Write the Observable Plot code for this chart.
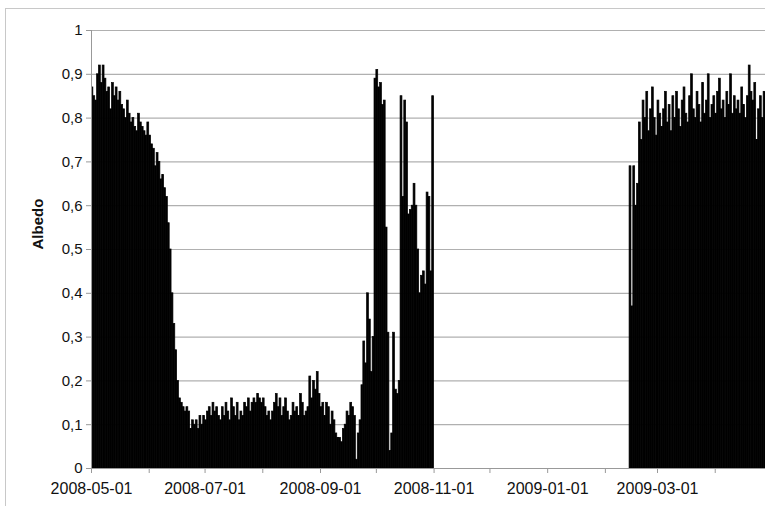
<!DOCTYPE html>
<html><head><meta charset="utf-8">
<script src="https://cdn.jsdelivr.net/npm/d3@7"></script>
<script src="https://cdn.jsdelivr.net/npm/@observablehq/plot@0.6"></script>
<style>
body{margin:0;background:#fff;}
#wrap{position:relative;width:765px;height:506px;overflow:hidden;}
#frame{position:absolute;left:5px;top:8px;width:800px;height:600px;border-left:1px solid #c8c8c8;border-top:1px solid #c8c8c8;}
#chart{position:absolute;left:0;top:0;}
</style></head><body>
<div id="wrap"><div id="frame"></div><div id="chart"></div></div>
<script>
const start1 = "2008-05-01";
const albedo1 = [
0.87,0.85,0.84,0.90,0.92,0.88,0.92,0.89,0.86,0.87,
0.82,0.88,0.85,0.87,0.84,0.86,0.83,0.82,0.80,0.84,
0.81,0.79,0.80,0.78,0.77,0.81,0.79,0.78,0.77,0.76,
0.79,0.76,0.74,0.73,0.69,0.72,0.70,0.66,0.67,0.64,
0.62,0.56,0.50,0.40,0.33,0.27,0.20,0.16,0.15,0.14,
0.13,0.14,0.13,0.09,0.11,0.10,0.11,0.09,0.12,0.10,
0.12,0.11,0.13,0.14,0.12,0.15,0.13,0.14,0.12,0.11,
0.14,0.12,0.15,0.13,0.11,0.16,0.14,0.12,0.15,0.11,
0.13,0.12,0.15,0.14,0.16,0.13,0.15,0.16,0.15,0.17,
0.16,0.15,0.16,0.14,0.12,0.13,0.11,0.13,0.15,0.17,
0.14,0.16,0.12,0.14,0.16,0.13,0.11,0.12,0.15,0.13,
0.14,0.12,0.17,0.15,0.12,0.13,0.14,0.21,0.16,0.20,
0.18,0.22,0.17,0.14,0.15,0.12,0.15,0.14,0.10,0.13,
0.11,0.08,0.07,0.07,0.06,0.09,0.10,0.13,0.12,0.15,
0.14,0.12,0.02,0.08,0.11,0.19,0.29,0.24,0.40,0.34,
0.22,0.30,0.89,0.91,0.87,0.88,0.83,0.84,0.55,0.31,
0.04,0.08,0.31,0.18,0.17,0.20,0.85,0.62,0.84,0.79,
0.58,0.59,0.60,0.65,0.60,0.50,0.40,0.44,0.45,0.42,
0.63,0.62,0.45,0.85];
const start2 = "2009-02-14";
const albedo2 = [
0.69,0.37,0.69,0.60,0.65,0.79,0.75,0.84,0.80,0.86,
0.77,0.82,0.87,0.80,0.76,0.84,0.81,0.78,0.82,0.86,
0.79,0.83,0.77,0.85,0.80,0.86,0.82,0.78,0.84,0.87,
0.81,0.79,0.85,0.90,0.82,0.80,0.86,0.83,0.79,0.88,
0.81,0.84,0.90,0.80,0.83,0.85,0.81,0.86,0.89,0.82,
0.84,0.80,0.86,0.83,0.90,0.81,0.85,0.82,0.84,0.81,
0.87,0.83,0.80,0.85,0.92,0.86,0.84,0.88,0.75,0.82,
0.85,0.80,0.86,0.83,0.76];
const labelTicks = ["2008-05-01","2008-07-01","2008-09-01","2008-11-01","2009-01-01","2009-03-01"];
const monthTicks = ["2008-05-01","2008-06-01","2008-07-01","2008-08-01","2008-09-01","2008-10-01","2008-11-01","2008-12-01","2009-01-01","2009-02-01","2009-03-01","2009-04-01"];
const yTicks = [0,0.1,0.2,0.3,0.4,0.5,0.6,0.7,0.8,0.9,1];

const toRows = (s, vals) => vals.map((v, i) => ({date: d3.utcDay.offset(new Date(s), i), v}));
const data = toRows(start1, albedo1).concat(toRows(start2, albedo2));
const fmtY = d => d === 0 ? "0" : d === 1 ? "1" : String(d.toFixed(1)).replace(".", ",");

const plot = Plot.plot({
  width: 765, height: 506,
  marginLeft: 91, marginRight: 0, marginTop: 30, marginBottom: 38,
  style: {fontFamily: "Liberation Sans, Arial, sans-serif", fontSize: "15px", color: "#111", background: "transparent"},
  x: {type: "utc", domain: [new Date("2008-05-01"), new Date("2009-04-28")]},
  y: {domain: [0, 1]},
  marks: [
    Plot.ruleY(yTicks.slice(1), {stroke: "#b0b0b0", strokeWidth: 1.2}),
    Plot.rectY(data, {x: "date", y: "v", interval: "day", fill: "black", stroke: "black", strokeWidth: 0.7, inset: 0, clip: true}),
    Plot.ruleY([0], {stroke: "#999"}),
    Plot.ruleX([new Date("2008-05-01")], {stroke: "#999"}),
    Plot.axisY({ticks: yTicks, tickFormat: fmtY, tickSize: 5, stroke: "#999", tickPadding: 4, label: null, fontSize: 15}),
    Plot.axisX({ticks: monthTicks.map(d => new Date(d)), tickFormat: () => "", tickSize: 5, stroke: "#999", label: null}),
    Plot.axisX({ticks: labelTicks.map(d => new Date(d)), tickFormat: d3.utcFormat("%Y-%m-%d"), tickSize: 0, tickPadding: 14, label: null, fontSize: 16}),
    Plot.text(["Albedo"], {frameAnchor: "left", dx: -53, rotate: -90, fontWeight: "bold", fontSize: 15})
  ]
});
document.querySelector("#chart").append(plot);
</script>
</body></html>
